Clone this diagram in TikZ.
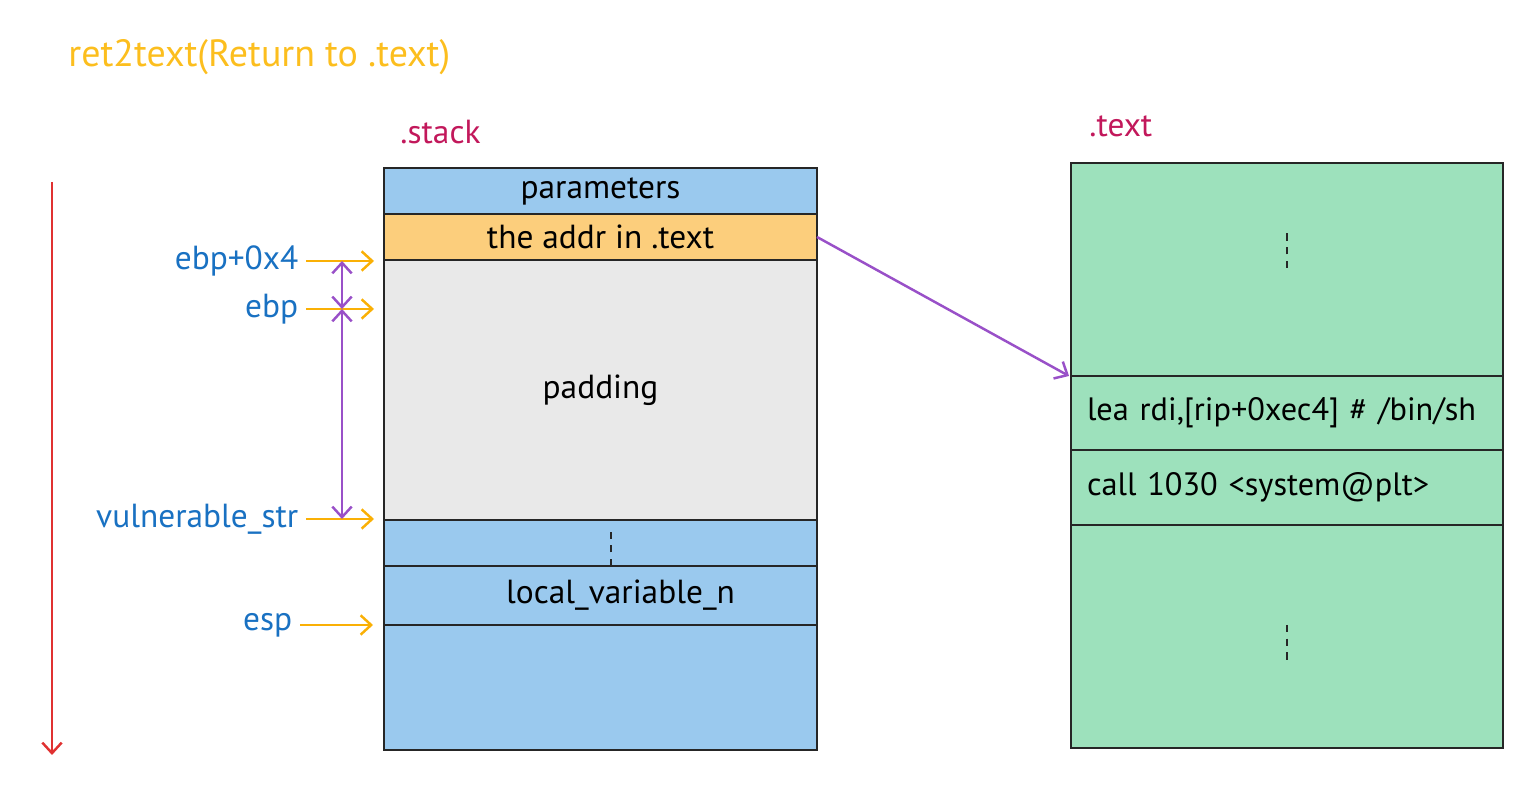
\documentclass[tikz,border=0pt]{standalone}
\usepackage{fontspec}
\setmainfont{PT Sans}
\usepackage{tikz}
\usetikzlibrary{positioning, arrows.meta}
\definecolor{stackblue}{RGB}{154,201,238}
\definecolor{addrorange}{RGB}{252,206,124}
\definecolor{padgray}{RGB}{233,233,233}
\definecolor{textgreen}{RGB}{157,225,188}
\definecolor{regblue}{RGB}{25,113,194}
\definecolor{secred}{RGB}{194,24,91}
\definecolor{titleyellow}{RGB}{252,190,30}
\definecolor{ptrorange}{RGB}{250,176,5}
\definecolor{spanpurple}{RGB}{153,80,200}
\definecolor{growred}{RGB}{224,49,49}
\tikzstyle{stackcell} = [rectangle, minimum width=4.33cm, inner sep=0pt, outer sep=0pt, text centered, draw=black!85, line width=0.8pt]
\tikzstyle{textcell} = [rectangle, minimum width=4.32cm, text width=4.0cm, inner xsep=0.16cm, inner ysep=0pt, outer sep=0pt, align=left, draw=black!85, line width=0.8pt, fill=textgreen, font=\fontsize{9.2}{11}\selectfont]
\tikzstyle{reglabel} = [anchor=east, inner sep=0.07cm, text=regblue]
\tikzstyle{ptrarrow} = [-{Straight Barb[length=3pt,width=5.5pt]}, line width=0.7pt, draw=ptrorange]
\tikzstyle{spanarrow} = [{Straight Barb[length=3pt,width=5.5pt]}-{Straight Barb[length=3pt,width=5.5pt]}, line width=0.7pt, draw=spanpurple]
\tikzstyle{vdots} = [line width=0.8pt, draw=black!85, dash pattern=on 2.1pt off 1.8pt]

\begin{document}
\begin{tikzpicture}[font=\fontsize{9.5}{11}\selectfont]
\useasboundingbox (0,0) rectangle (15.37,7.86);

\node (title) [anchor=west, text=titleyellow, font=\fontsize{10.8}{13}\selectfont] at (0.56,7.29) {ret2text(Return to .text)};
\node (stacklbl) [anchor=west, text=secred] at (3.88,6.54) {.stack};
\node (textlbl) [anchor=west, text=secred] at (10.77,6.60) {.text};

% stack frame
\node (params) [stackcell, fill=stackblue, minimum height=0.46cm, anchor=north] at (6.005,6.18) {parameters};
\node (addr) [stackcell, fill=addrorange, minimum height=0.46cm, below=0pt of params] {the addr in .text};
\node (padding) [stackcell, fill=padgray, minimum height=2.60cm, below=0pt of addr] {padding};
\node (dots) [stackcell, fill=stackblue, minimum height=0.46cm, below=0pt of padding] {};
\node (local) [stackcell, fill=stackblue, minimum height=0.59cm, below=0pt of dots] {\hspace{0.4cm}local\_variable\_n};
\node (bottom) [stackcell, fill=stackblue, minimum height=1.25cm, below=0pt of local] {};
\draw [vdots] ([xshift=0.105cm]dots.south) -- ++(0,0.34);

% .text segment
\node (texttop) [textcell, minimum height=2.13cm, anchor=north] at (12.87,6.23) {};
\node (lea) [textcell, minimum height=0.74cm, below=0pt of texttop] {lea rdi,[rip+0xec4] \# /bin/sh};
\node (call) [textcell, minimum height=0.75cm, below=0pt of lea] {call 1030 <system@plt>};
\node (textbot) [textcell, minimum height=2.23cm, below=0pt of call] {};
\draw [vdots] ([yshift=0.015cm]texttop.center) -- ++(0,0.36);
\draw [vdots] ([yshift=0.115cm]textbot.center) -- ++(0,-0.36);

% registers
\node (ebp4) [reglabel] at (3.06,5.25) {ebp+0x4};
\node (ebp) [reglabel] at (3.06,4.77) {ebp};
\node (vuln) [reglabel] at (3.06,2.67) {vulnerable\_str};
\node (esp) [reglabel] at (3.00,1.61) {esp};
\coordinate (ebp4T) at (3.74,5.25);
\coordinate (ebpT) at (3.74,4.77);
\coordinate (vulnT) at (3.74,2.67);
\coordinate (espT) at (3.73,1.61);
\draw [ptrarrow] (ebp4) -- (ebp4T);
\draw [ptrarrow] (ebp) -- (ebpT);
\draw [ptrarrow] (vuln) -- (vulnT);
\draw [ptrarrow] (esp) -- (espT);

\coordinate (s1) at (3.42,5.25);
\coordinate (s2) at (3.42,4.77);
\coordinate (s3) at (3.42,2.67);
\draw [spanarrow] (s1) -- (s2);
\draw [spanarrow] (s2) -- (s3);

% return address
\draw [-{Straight Barb[length=3pt,width=5.5pt]}, line width=0.7pt, draw=spanpurple] (addr.east) -- ([xshift=-0.02cm]lea.north west);

% stack grows down
\coordinate (growA) at (0.52,6.04);
\coordinate (growB) at (0.52,0.31);
\draw [-{Straight Barb[length=3pt,width=5.5pt]}, line width=0.7pt, draw=growred] (growA) -- (growB);

\end{tikzpicture}
\end{document}
